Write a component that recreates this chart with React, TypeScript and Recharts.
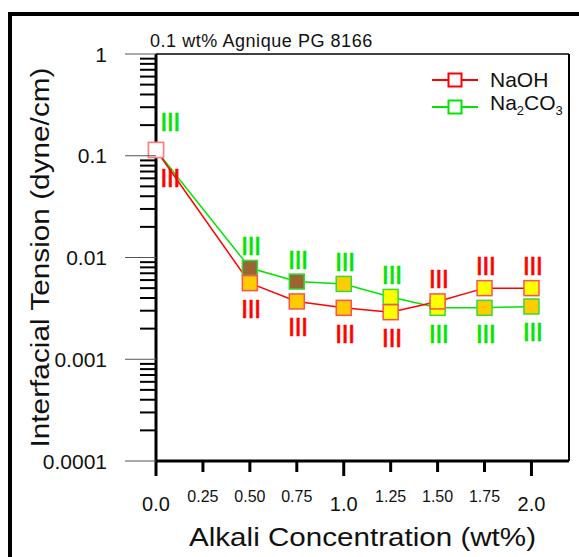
import { LineChart, Line, XAxis, YAxis, ReferenceLine, LabelList, Label, Legend } from 'recharts';

// alkali concentration, wt%
const concentrations = [0, 0.5, 0.75, 1.0, 1.25, 1.5, 1.75, 2.0];
// interfacial tension, dyne/cm
const naohIFT = [0.114, 0.0056, 0.0037, 0.0032, 0.0029, 0.0037, 0.005, 0.005];
const na2co3IFT = [0.114, 0.0079, 0.0058, 0.0055, 0.0041, 0.0032, 0.0032, 0.0033];
// Winsor phase type
const naohPhase = ['III', 'III', 'III', 'III', 'III', 'III', 'III', 'III'];
const na2co3Phase = ['III', 'III', 'III', 'III', 'III', 'III', 'III', 'III'];

const xTicks = [0, 0.25, 0.5, 0.75, 1, 1.25, 1.5, 1.75, 2];
const xTickLabels = ['0.0', '0.25', '0.50', '0.75', '1.0', '1.25', '1.50', '1.75', '2.0'];
const yDecades = [0.0001, 0.001, 0.01, 0.1, 1];
const yDecadeLabels = ['0.0001', '0.001', '0.01', '0.1', '1'];

// marker colours (sample appearance)
const naohFill = ['#ffffff', '#ffcc00', '#ffcc00', '#ffcc00', '#ffff00', '#ffff00', '#ffff00', '#ffff00'];
const na2co3Fill = ['#ffffff', '#996633', '#996633', '#ffcc00', '#ffff00', '#ffff00', '#ffcc00', '#ffcc00'];

const RED = '#ff0000';
const GREEN = '#00e600';
const FONT = '"Liberation Sans", Arial, sans-serif';

const data = concentrations.map((x, i) => ({
  x,
  naoh: naohIFT[i],
  na2co3: na2co3IFT[i],
  naohPhase: naohPhase[i],
  na2co3Phase: na2co3Phase[i],
}));

// log minor ticks 2..9 inside each decade
const yTicks: number[] = [];
yDecades.forEach((d, i) => {
  yTicks.push(d);
  if (i < yDecades.length - 1) {
    for (let m = 2; m <= 9; m++) yTicks.push(+(d * m).toPrecision(6));
  }
});

const YTick = (props: any) => {
  const { x, y, payload } = props;
  const idx = yDecades.findIndex((d) => Math.abs(d - payload.value) / d < 1e-6);
  if (idx < 0) {
    return <line x1={x - 16} x2={x} y1={y} y2={y} stroke="#000" strokeWidth={2} />;
  }
  return (
    <g>
      <line x1={x - 31} x2={x} y1={y} y2={y} stroke="#555" strokeWidth={1} />
      <text x={x - 49} y={y} textAnchor="end" dominantBaseline="central" fontSize={21} fontFamily={FONT} fill="#111">
        {yDecadeLabels[idx]}
      </text>
    </g>
  );
};

const XTick = (props: any) => {
  const { x, y, payload, index } = props;
  const major = Number.isInteger(payload.value);
  return (
    <g>
      <line x1={x} x2={x} y1={y} y2={y + (major ? 15 : 11)} stroke="#000" strokeWidth={3} />
      <text x={x} y={y + (major ? 50 : 41)} textAnchor="middle" fontSize={major ? 20 : 16} fontFamily={FONT} fill="#111">
        {xTickLabels[index]}
      </text>
    </g>
  );
};

const makeDot = (fills: string[], border: string) => (props: any) => {
  const { cx, cy, index } = props;
  if (cx == null || cy == null) return <g key={index} />;
  return (
    <rect
      key={index}
      x={cx - 7.5}
      y={cy - 7.5}
      width={15}
      height={15}
      fill={fills[index]}
      stroke={index === 0 ? '#ff8080' : border}
      strokeWidth={1.5}
    />
  );
};

// red label goes below its point when NaOH is lower, green label above when Na2CO3 is higher
const makePhaseLabel = (color: string, isRed: boolean) => (props: any) => {
  const { index, value } = props;
  const px = props.viewBox?.x ?? props.x;
  const py = props.viewBox?.y ?? props.y;
  const low = isRed ? naohIFT[index] <= na2co3IFT[index] : na2co3IFT[index] < naohIFT[index];
  const dy = index === 0 ? (low ? 28 : -28) : low ? 26 : -22;
  const dx = index === 0 ? 14 : 1;
  return (
    <text
      x={px + dx}
      y={py + dy}
      textAnchor="middle"
      dominantBaseline="central"
      fontSize={26}
      fontFamily={FONT}
      letterSpacing={-0.7}
      fill={color}
      stroke={color}
      strokeWidth={0.6}
    >
      {value}
    </text>
  );
};

const LegendIcon = ({ color }: { color: string }) => (
  <svg width={46} height={16} style={{ display: 'block' }}>
    <line x1={0} x2={46} y1={8} y2={8} stroke={color} strokeWidth={2} />
    <rect x={16.5} y={1.5} width={13} height={13} fill="#fff" stroke={color} strokeWidth={2} />
  </svg>
);

const renderLegend = () => (
  <div style={{ fontFamily: FONT, fontSize: 21, color: '#111', lineHeight: '23px' }}>
    <div style={{ display: 'flex', alignItems: 'center', gap: 12 }}>
      <LegendIcon color={RED} />
      <span>NaOH</span>
    </div>
    <div style={{ display: 'flex', alignItems: 'center', gap: 12 }}>
      <LegendIcon color={GREEN} />
      <span>
        Na<sub style={{ fontSize: 13 }}>2</sub>CO<sub style={{ fontSize: 13 }}>3</sub>
      </span>
    </div>
  </div>
);

export default function App() {
  return (
    <div style={{ position: 'fixed', left: 0, top: 0, width: 579, height: 557, overflow: 'hidden', background: '#fff' }}>
      <div
        style={{
          position: 'absolute',
          left: 8,
          top: 12,
          width: 600,
          height: 600,
          borderTop: '4px solid #000',
          borderLeft: '4px solid #000',
        }}
      />
      <div
        style={{
          position: 'absolute',
          left: 150,
          top: 32,
          fontFamily: FONT,
          fontSize: 18,
          lineHeight: '18px',
          letterSpacing: 0.55,
          color: '#111',
          whiteSpace: 'nowrap',
        }}
      >
        0.1 wt% Agnique PG 8166
      </div>
      <LineChart width={579} height={557} data={data} margin={{ top: 54, right: 10, left: 0, bottom: 0 }}>
        <XAxis
          dataKey="x"
          type="number"
          domain={[0, 2.2]}
          ticks={xTicks}
          interval={0}
          tickSize={0}
          tickMargin={0}
          tickLine={false}
          tick={<XTick />}
          height={96}
          axisLine={{ stroke: '#000', strokeWidth: 3 }}
        >
          <Label
            content={(p: any) => {
              const vb = p.viewBox;
              return (
                <text
                  x={vb.x + vb.width / 2}
                  y={546}
                  textAnchor="middle"
                  fontSize={26}
                  fontFamily={FONT}
                  fill="#111"
                  textLength={347}
                  lengthAdjust="spacingAndGlyphs"
                >
                  Alkali Concentration (wt%)
                </text>
              );
            }}
          />
        </XAxis>
        <YAxis
          type="number"
          scale="log"
          domain={[0.0001, 1]}
          ticks={yTicks}
          interval={0}
          width={156}
          tickSize={0}
          tickMargin={0}
          tickLine={false}
          tick={<YTick />}
          axisLine={{ stroke: '#000', strokeWidth: 3 }}
        >
          <Label
            content={(p: any) => {
              const vb = p.viewBox;
              const cy = vb.y + vb.height / 2;
              return (
                <text
                  x={40}
                  y={cy}
                  transform={`rotate(-90, 40, ${cy})`}
                  textAnchor="middle"
                  dominantBaseline="central"
                  fontSize={26}
                  fontFamily={FONT}
                  fill="#111"
                  textLength={380}
                  lengthAdjust="spacingAndGlyphs"
                >
                  Interfacial Tension (dyne/cm)
                </text>
              );
            }}
          />
        </YAxis>
        <ReferenceLine y={1} stroke="#000" strokeWidth={1.5} />
        <ReferenceLine x={2.2} stroke="#000" strokeWidth={2} />
        <Legend
          layout="vertical"
          align="center"
          verticalAlign="middle"
          content={renderLegend}
          wrapperStyle={{ left: 432, top: 68, width: 140 }}
        />
        <Line
          dataKey="na2co3"
          name="Na2CO3"
          stroke={GREEN}
          strokeWidth={1.5}
          dot={makeDot(na2co3Fill, '#33dd33')}
          activeDot={false}
          isAnimationActive={false}
        >
          <LabelList dataKey="na2co3Phase" content={makePhaseLabel(GREEN, false)} />
        </Line>
        <Line
          dataKey="naoh"
          name="NaOH"
          stroke={RED}
          strokeWidth={1.5}
          dot={makeDot(naohFill, '#ff5050')}
          activeDot={false}
          isAnimationActive={false}
        >
          <LabelList dataKey="naohPhase" content={makePhaseLabel(RED, true)} />
        </Line>
      </LineChart>
    </div>
  );
}
